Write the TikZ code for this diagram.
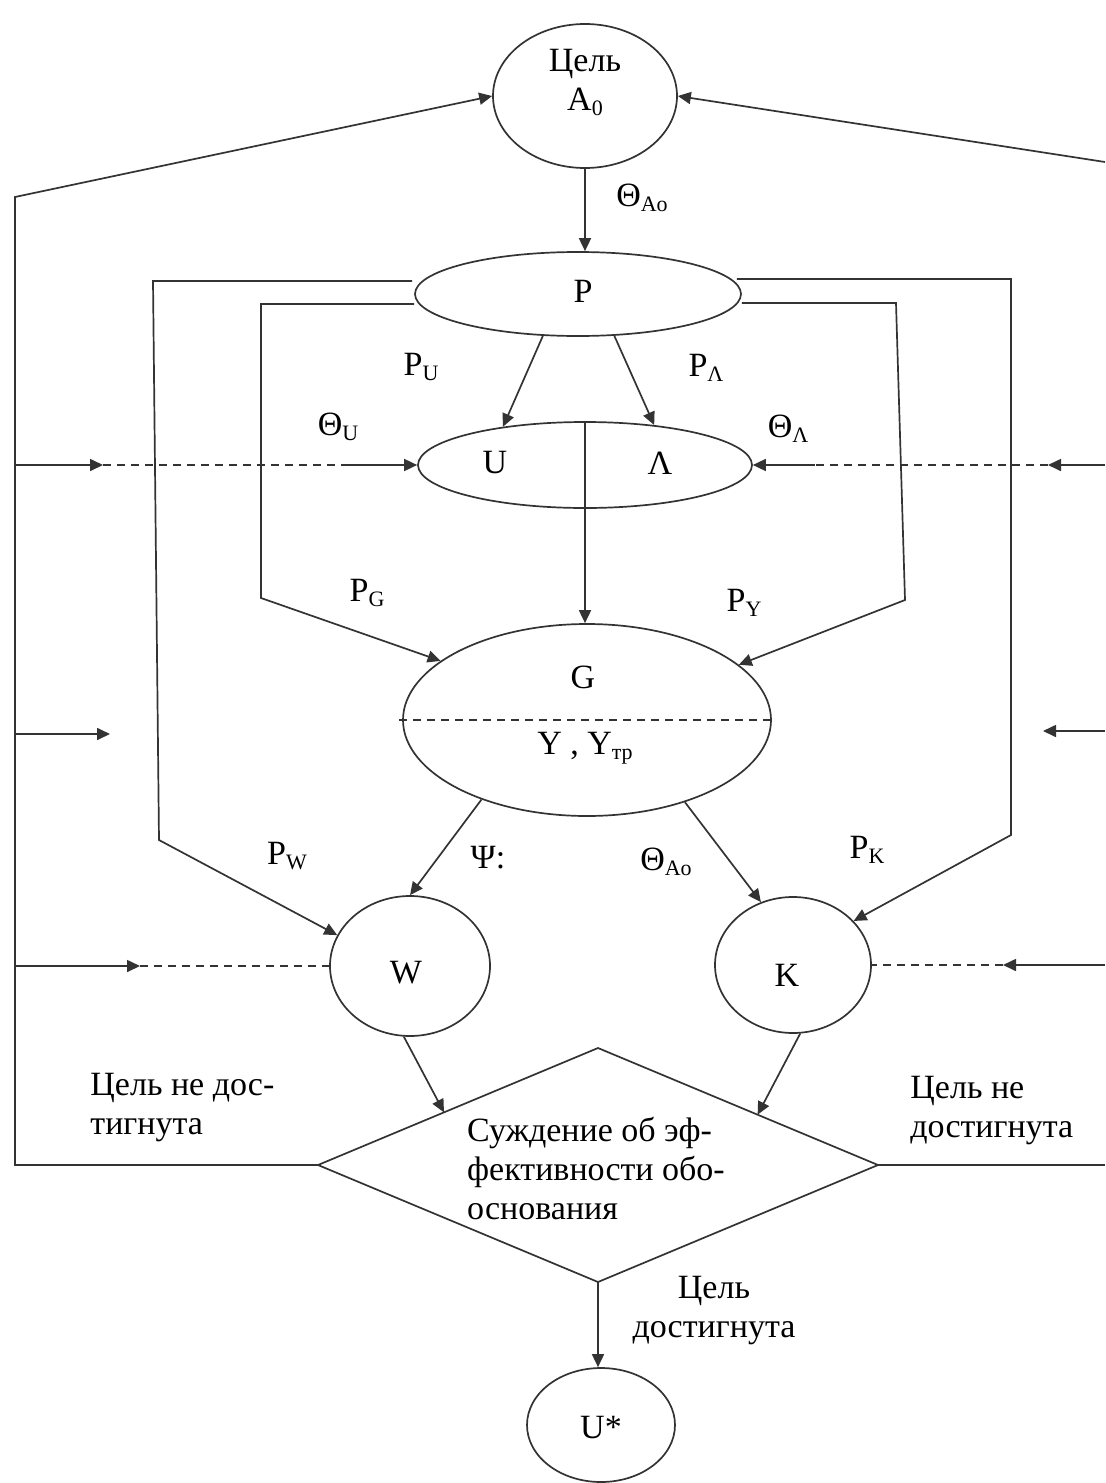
\documentclass[tikz,border=0pt]{standalone}
\usepackage{fontspec}
\setmainfont{Liberation Serif}
\usetikzlibrary{arrows.meta,shapes.geometric,calc}
\newcommand{\lsub}[1]{\raisebox{-0.35ex}{\fontsize{11}{11}\selectfont #1}}
\tikzset{
  ln/.style={line width=0.85pt, draw=black!80},
  arr/.style={ln, -{Triangle[length=6.5pt,width=6pt]}},
  dsh/.style={ln, dash pattern=on 4pt off 3pt},
  shp/.style={ln, ellipse, inner sep=0pt},
  txt/.style={inner sep=0pt, font=\fontsize{17}{19.5}\selectfont, text=black}
}
\begin{document}
\begin{tikzpicture}[x=0.5pt,y=-0.5pt]
\useasboundingbox (0,0) rectangle (1105,1483);

% shapes
\node[shp, minimum width=92pt, minimum height=72pt] (goal) at (585,96) {};
\node[shp, minimum width=163pt, minimum height=42pt] (P) at (578,294) {};
\node[shp, minimum width=167pt, minimum height=43pt] (UL) at (585,465) {};
\node[shp, minimum width=184pt, minimum height=96pt] (G) at (587,720) {};
\node[shp, minimum width=80pt, minimum height=70pt] (W) at (410,966) {};
\node[shp, minimum width=78pt, minimum height=68pt] (K) at (793,965) {};
\node[shp, minimum width=74pt, minimum height=57pt] (Us) at (601,1425) {};

% decision diamond
\coordinate (dW) at (318,1165);
\coordinate (dN) at (598,1048);
\coordinate (dE) at (878,1165);
\coordinate (dS) at (598,1282);
\draw[ln] (dW) -- (dN) -- (dE) -- (dS) -- cycle;
\node[txt, align=left] (dia) at (596,1168)
      {Суждение об эф-\\фективности обо-\\основания};

% texts in shapes
\node[txt] (tgoal1) at (585,64) {Цель};
\node[txt] (tgoal2) at (585,102) {A\lsub{0}};
\node[txt] (tP) at (583,291) {P};
\node[txt] (tU) at (495,463) {U};
\node[txt] (tL) at (660,463) {Λ};
\node[txt] (tG) at (583,677) {G};
\node[txt] (tY) at (585,748) {Y , Y\lsub{тр}};
\node[txt] (tW) at (406,973) {W};
\node[txt] (tK) at (787,975) {K};
\node[txt] (tUs) at (601,1428) {U*};

% labels
\node[txt] (lTh1) at (642,198) {Θ\lsub{Ao}};
\node[txt] (lPU) at (421,367) {P\lsub{U}};
\node[txt] (lPL) at (706,368) {P\lsub{Λ}};
\node[txt] (lThU) at (338,427) {Θ\lsub{U}};
\node[txt] (lThL) at (788,429) {Θ\lsub{Λ}};
\node[txt] (lPG) at (367,593) {P\lsub{G}};
\node[txt] (lPY) at (744,603) {P\lsub{Y}};
\node[txt] (lPW) at (287,856) {P\lsub{W}};
\node[txt] (lPsi) at (488,858) {Ψ:};
\node[txt] (lTh2) at (666,862) {Θ\lsub{Ao}};
\node[txt] (lPK) at (867,850) {P\lsub{K}};
\node[txt, align=left, anchor=west] (lno1) at (90,1108) {Цель не дос-\\тигнута};
\node[txt, align=left, anchor=west] (lno2) at (910,1111) {Цель не\\достигнута};
\node[txt, align=center] (lyes) at (714,1311) {Цель\\достигнута};

% bend coordinates
\coordinate (lo1) at (153,281);
\coordinate (lo2) at (159,840);
\coordinate (li1) at (261,304);
\coordinate (li2) at (261,598);
\coordinate (ri1) at (896,303);
\coordinate (ri2) at (905,600);
\coordinate (ro1) at (1011,279);
\coordinate (ro2) at (1011,835);
\coordinate (lb) at (15,1167);
\coordinate (lt) at (15,197);
\coordinate (rb) at (1105,1163);
\coordinate (rt) at (1105,162);

% main flow
\draw[arr] (goal.south) -- (goal.south |- P.north);
\draw[arr] (P.230) -- (UL.155);
\draw[arr] (P.311) -- (UL.30);
\draw[ln] (UL.north) -- (UL.south);
\draw[arr] (UL.south) -- (UL.south |- G.north);
\draw[dsh] ($(G.west)+(-3,0)$) -- ($(G.east)+(2,0)$);
\draw[arr] ($(P.west)+(-2,-13)$) -- (lo1) -- (lo2) -- (W.157);
\draw[arr] ($(P.west)+(0,10)$) -- (li1) -- (li2) -- (G.158);
\draw[arr] ($(P.east)+(0,9)$) -- (ri1) -- (ri2) -- (G.20);
\draw[arr] ($(P.east)+(-5,-15)$) -- (ro1) -- (ro2) -- (K.36);
\draw[arr] (G.217) -- (W.north);
\draw[arr] (G.320) -- (K.117);
\draw[arr] (W.265) -- ($(dW)!0.45!(dN)$);
\draw[arr] (K.276) -- ($(dN)!0.57!(dE)$);
\draw[arr] (dS) -- (dS |- Us.north);

% feedback loops
\draw[arr] (dW) -- (dW -| lb) -- (lt) -- (goal.west);
\draw[ln] (dE) -- (dE -| rb);
\draw[arr] (rt) -- (goal.east);

% side inputs
\coordinate (l1) at (15,465);  \coordinate (l1t) at (103,465); \coordinate (l1d) at (345,465);
\coordinate (r1) at (1105,465); \coordinate (r1t) at (1048,465); \coordinate (r1d) at (815,465);
\coordinate (l2) at (15,734);  \coordinate (l2t) at (110,734);
\coordinate (r2) at (1105,731); \coordinate (r2t) at (1043,731);
\coordinate (l3) at (15,966);  \coordinate (l3t) at (140,966);
\coordinate (r3) at (1105,965); \coordinate (r3t) at (1003,965);

\draw[arr] (l1) -- (l1t);
\draw[dsh] (l1t) -- (l1d);
\draw[arr] (l1d) -- (UL.west);
\draw[arr] (r1) -- (r1t);
\draw[dsh] (r1t) -- (r1d);
\draw[arr] (r1d) -- (UL.east);
\draw[arr] (l2) -- (l2t);
\draw[arr] (r2) -- (r2t);
\draw[arr] (l3) -- (l3t);
\draw[dsh] (l3t) -- (W.west);
\draw[arr] (r3) -- (r3t);
\draw[dsh] (r3t) -- (K.east);
\end{tikzpicture}
\end{document}
